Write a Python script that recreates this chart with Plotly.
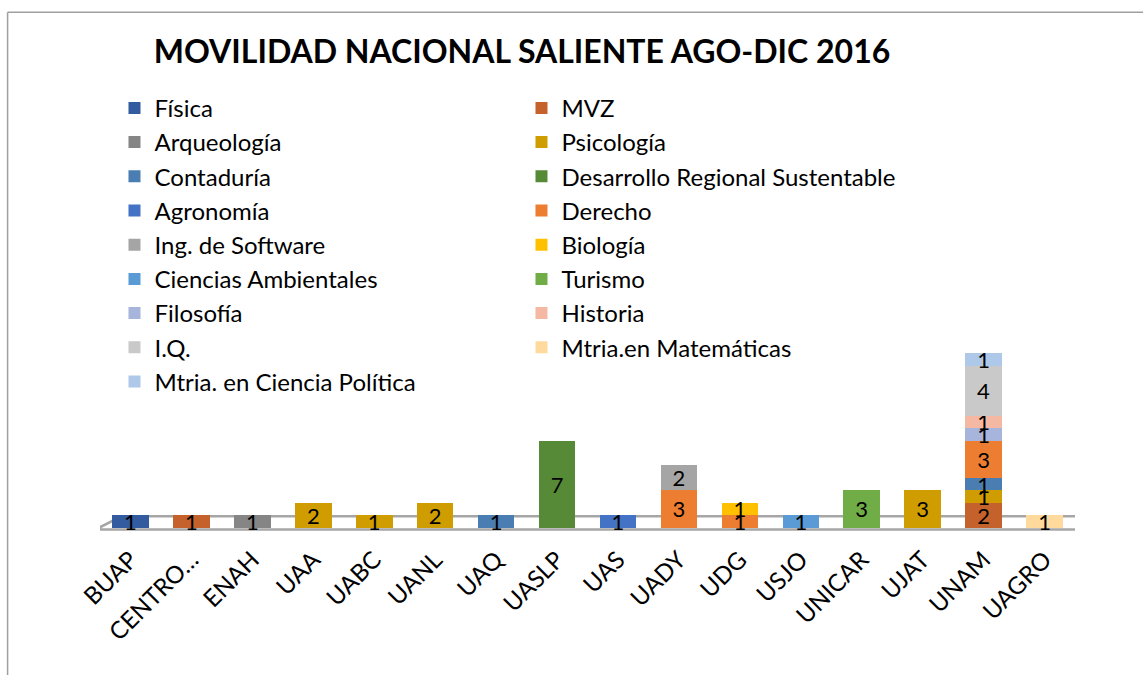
import plotly.graph_objects as go

categories = ["BUAP", "CENTRO…", "ENAH", "UAA", "UABC", "UANL", "UAQ", "UASLP",
              "UAS", "UADY", "UDG", "USJO", "UNICAR", "UJAT", "UNAM", "UAGRO"]

series_names = ["Física", "MVZ", "Arqueología", "Psicología", "Contaduría",
                "Desarrollo Regional Sustentable", "Agronomía", "Derecho",
                "Ing. de Software", "Biología", "Ciencias Ambientales", "Turismo",
                "Filosofía", "Historia", "I.Q.", "Mtria.en Matemáticas",
                "Mtria. en Ciencia Política"]

series_colors = ["#335B9F", "#C5612A", "#858585", "#CF9D00", "#4A7EB3",
                 "#578A36", "#4472C4", "#ED7D31", "#A5A5A5", "#FFC000",
                 "#5B9BD5", "#70AD47", "#A7B4DB", "#F4B8A3", "#C9C9C9",
                 "#FFDA9C", "#ADC8E8"]

# values per series, aligned with categories (None = no bar)
N = None
fisica      = [1, N, N, N, N, N, N, N, N, N, N, N, N, N, N, N]
mvz         = [N, 1, N, N, N, N, N, N, N, N, N, N, N, N, 2, N]
arqueologia = [N, N, 1, N, N, N, N, N, N, N, N, N, N, N, N, N]
psicologia  = [N, N, N, 2, 1, 2, N, N, N, N, N, N, N, 3, 1, N]
contaduria  = [N, N, N, N, N, N, 1, N, N, N, N, N, N, N, 1, N]
desarrollo  = [N, N, N, N, N, N, N, 7, N, N, N, N, N, N, N, N]
agronomia   = [N, N, N, N, N, N, N, N, 1, N, N, N, N, N, N, N]
derecho     = [N, N, N, N, N, N, N, N, N, 3, 1, N, N, N, 3, N]
software    = [N, N, N, N, N, N, N, N, N, 2, N, N, N, N, N, N]
biologia    = [N, N, N, N, N, N, N, N, N, N, 1, N, N, N, N, N]
ambientales = [N, N, N, N, N, N, N, N, N, N, N, 1, N, N, N, N]
turismo     = [N, N, N, N, N, N, N, N, N, N, N, N, 3, N, N, N]
filosofia   = [N, N, N, N, N, N, N, N, N, N, N, N, N, N, 1, N]
historia    = [N, N, N, N, N, N, N, N, N, N, N, N, N, N, 1, N]
iq          = [N, N, N, N, N, N, N, N, N, N, N, N, N, N, 4, N]
matematicas = [N, N, N, N, N, N, N, N, N, N, N, N, N, N, N, 1]
politica    = [N, N, N, N, N, N, N, N, N, N, N, N, N, N, 1, N]

series_values = [fisica, mvz, arqueologia, psicologia, contaduria, desarrollo,
                 agronomia, derecho, software, biologia, ambientales, turismo,
                 filosofia, historia, iq, matematicas, politica]

FONT = "Lato, Calibri, 'Open Sans', sans-serif"

fig = go.Figure()
for name, color, vals in zip(series_names, series_colors, series_values):
    fig.add_trace(go.Bar(
        x=categories, y=vals, name=name,
        marker=dict(color=color, line=dict(width=0)),
        text=[("" if v is None else str(v)) for v in vals],
        textposition="inside", insidetextanchor="middle", textangle=0,
        textfont=dict(color="black", size=22, family=FONT),
        hoverinfo="x+y+name",
    ))

W, H = 1143, 675
L, R, T, B = 99.5, 67.5, 340.5, 134.5
pw = W - L - R
ph = H - T - B

def px_x(px):
    return (px - L) / pw

def px_y(py):
    return (H - B - py) / ph

shapes = [
    # floor of the chart
    dict(type="path", xref="x", yref="y",
         path="M -0.57,-0.15 L 15.55,-0.15 L 15.8,0.9 L -0.15,0.9 Z",
         line=dict(color="#A6A6A6", width=2.5), fillcolor="white", layer="below"),
    # chart frame (top and left edges)
    dict(type="line", xref="paper", yref="paper", x0=px_x(7), x1=px_x(W + 5),
         y0=px_y(10), y1=px_y(10), line=dict(color="#A0A0A0", width=1.5)),
    dict(type="line", xref="paper", yref="paper", x0=px_x(7), x1=px_x(7),
         y0=px_y(10), y1=px_y(H + 5), line=dict(color="#A0A0A0", width=1.5)),
]

fig.update_layout(
    width=W, height=H,
    barmode="stack", bargap=0.4,
    paper_bgcolor="white", plot_bgcolor="rgba(0,0,0,0)",
    margin=dict(l=L, r=R, t=T, b=B, pad=0, autoexpand=False),
    title=dict(text="<b>MOVILIDAD NACIONAL SALIENTE AGO-DIC 2016</b>",
               x=522 / W, xanchor="center", xref="container",
               y=1 - 52 / H, yanchor="middle", yref="container",
               font=dict(family=FONT, size=32, color="black")),
    legend=dict(orientation="h", x=px_x(114), xanchor="left",
                y=px_y(84), yanchor="top",
                entrywidth=362, entrywidthmode="pixels",
                font=dict(family=FONT, size=24, color="black"),
                traceorder="normal", bgcolor="rgba(0,0,0,0)"),
    uniformtext=dict(minsize=22, mode="show"),
    xaxis=dict(type="category", range=[-0.5, 15.5], tickangle=-45,
               showline=False, showgrid=False, ticks="", zeroline=False,
               automargin=False,
               tickfont=dict(family=FONT, size=24, color="black")),
    yaxis=dict(range=[-1.0, 15], visible=False, showgrid=False, zeroline=False,
               automargin=False),
    shapes=shapes,
    showlegend=True,
)

fig.write_html("out.html",
               config={"displayModeBar": False},
               post_script="document.body.style.margin='0';")
